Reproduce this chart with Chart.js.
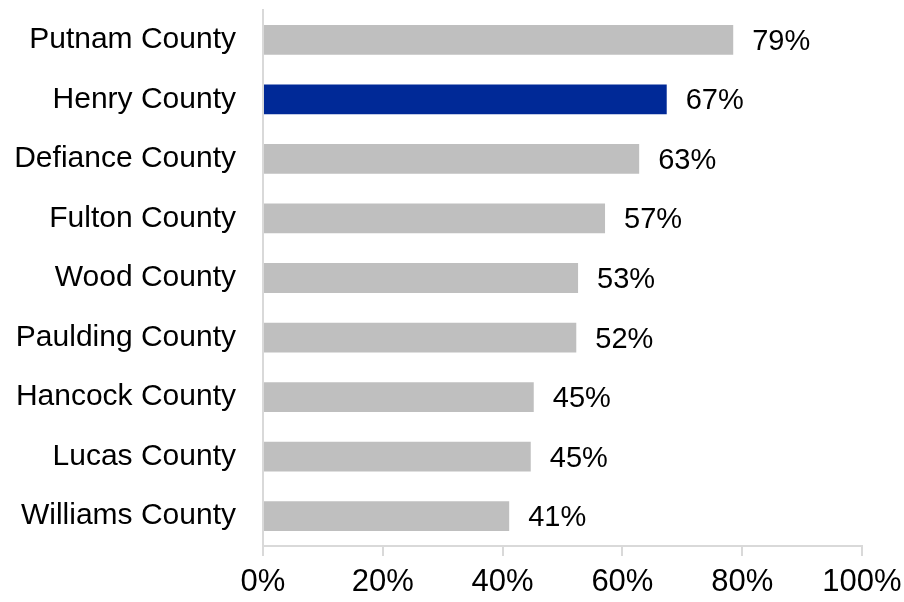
<!DOCTYPE html>
<html>
<head>
<meta charset="utf-8">
<script src="https://cdn.jsdelivr.net/npm/chart.js@4.4.1/dist/chart.umd.min.js"></script>
<style>
  html, body { margin: 0; padding: 0; background: #fff; }
  #wrap { width: 904px; height: 602px; position: relative; }
</style>
</head>
<body>
<div id="wrap"><canvas id="chart"></canvas></div>
<script>
  const counties = ['Putnam County','Henry County','Defiance County','Fulton County','Wood County',
                    'Paulding County','Hancock County','Lucas County','Williams County'];
  const shares   = [78.5, 67.4, 62.8, 57.1, 52.6, 52.3, 45.2, 44.7, 41.1];
  const xTicks   = [0, 20, 40, 60, 80, 100];
  const highlight = 'Henry County';

  const barColors = counties.map(c => c === highlight ? '#002997' : '#bfbfbf');

  // value labels at the end of each bar
  const endLabels = {
    id: 'endLabels',
    afterDatasetsDraw(chart) {
      const ctx = chart.ctx;
      const meta = chart.getDatasetMeta(0);
      ctx.save();
      ctx.font = '29px "Liberation Sans", Arial, sans-serif';
      ctx.fillStyle = '#000';
      ctx.textAlign = 'left';
      ctx.textBaseline = 'middle';
      meta.data.forEach((bar, i) => {
        ctx.fillText(Math.round(shares[i]) + '%', bar.x + 19, bar.y + 2);
      });
      ctx.restore();
    }
  };

  new Chart(document.getElementById('chart'), {
    type: 'bar',
    data: {
      labels: counties,
      datasets: [{
        data: shares,
        backgroundColor: barColors,
        borderWidth: 0,
        barPercentage: 0.5,
        categoryPercentage: 1
      }]
    },
    options: {
      indexAxis: 'y',
      responsive: true,
      maintainAspectRatio: false,
      animation: false,
      layout: { padding: { top: 10, right: 42, bottom: 1, left: 0 } },
      plugins: { legend: { display: false }, tooltip: { enabled: false } },
      scales: {
        x: {
          min: 0, max: 100,
          afterBuildTicks: s => { s.ticks = xTicks.map(v => ({ value: v })); },
          afterFit: s => { s.height = 55; s.paddingLeft = 0; s.paddingRight = 0; },
          grid: { drawOnChartArea: false, drawTicks: true, tickLength: 10, color: '#d9d9d9', lineWidth: 2 },
          border: { display: true, color: '#d9d9d9', width: 2 },
          ticks: {
            color: '#000', padding: 8, maxRotation: 0,
            font: { family: '"Liberation Sans", Arial, sans-serif', size: 31 },
            callback: v => v + '%'
          }
        },
        y: {
          afterFit: s => { s.width = 263; s.paddingTop = 0; s.paddingBottom = 0; },
          grid: { display: false, drawTicks: false },
          border: { display: true, color: '#d9d9d9', width: 2 },
          ticks: {
            color: '#000', padding: 27,
            font: { family: '"Liberation Sans", Arial, sans-serif', size: 30 }
          }
        }
      }
    },
    plugins: [endLabels]
  });
</script>
</body>
</html>
